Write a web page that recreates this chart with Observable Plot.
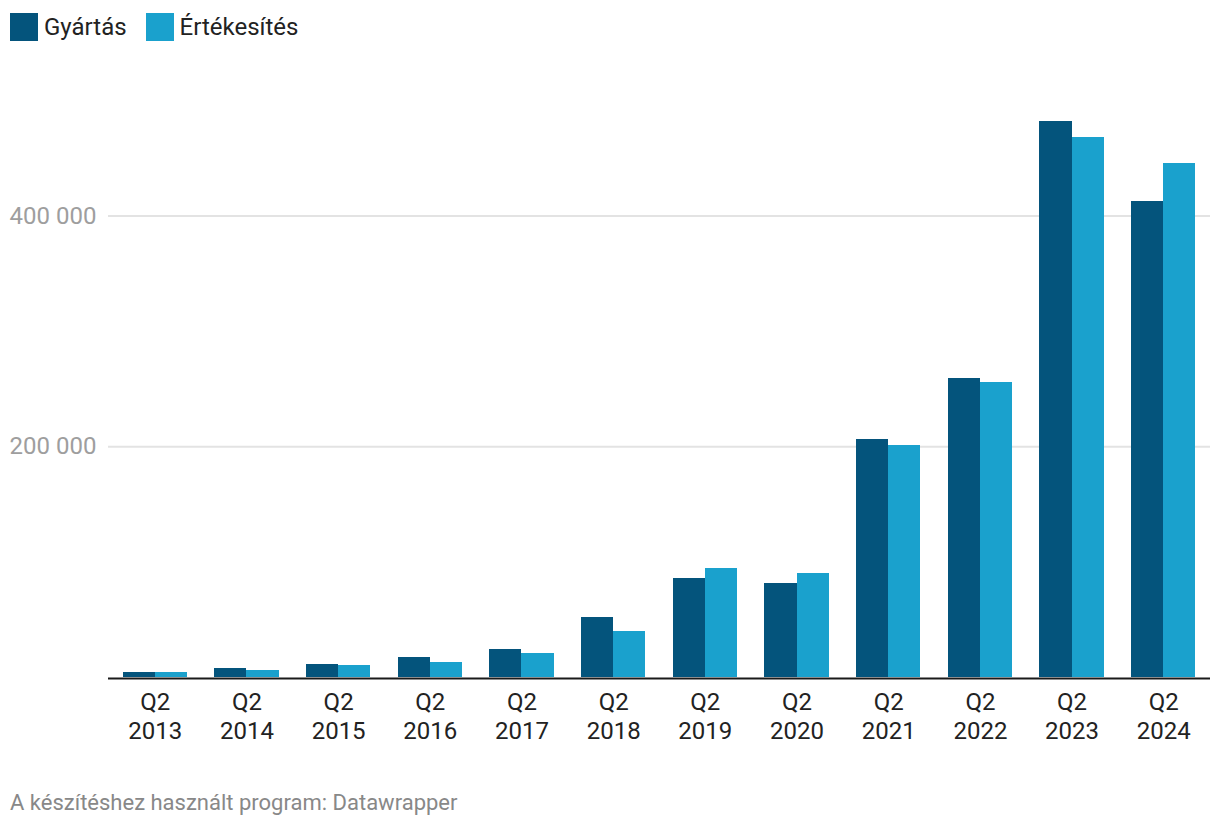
<!DOCTYPE html>
<html>
<head>
<meta charset="utf-8">
<script src="https://cdn.jsdelivr.net/npm/d3@7"></script>
<script src="https://cdn.jsdelivr.net/npm/@observablehq/plot@0.6"></script>
<style>
  html, body { margin: 0; padding: 0; background: #fff; }
  body { width: 1220px; height: 828px; font-family: Roboto, "Noto Sans", sans-serif; position: relative; overflow: hidden; }
  #legend { height: 54px; display: flex; align-items: center; padding-left: 10px; box-sizing: border-box; padding-top: 0px; }
  .item { display: flex; align-items: center; margin-right: 19px; font-size: 24px; color: #222; }
  .sw { width: 28px; height: 28px; margin-right: 6px; }
  #chart { position: absolute; top: 50px; left: 0; }
  #footer { position: absolute; left: 10px; top: 790px; font-size: 22px; color: #888; }
</style>
</head>
<body>
<div id="legend"></div>
<div id="chart"></div>
<div id="footer">A készítéshez használt program: Datawrapper</div>
<script>
const years = [2013, 2014, 2015, 2016, 2017, 2018, 2019, 2020, 2021, 2022, 2023, 2024];
const seriesNames = ["Gyártás", "Értékesítés"];
const gyartas = [4300, 7800, 11300, 17400, 24300, 52100, 85900, 81600, 206600, 258700, 481700, 412300];
const ertekesites = [4300, 6100, 10400, 13000, 20800, 39900, 94600, 90300, 201400, 255200, 467900, 445300];
const yTicks = [200000, 400000];
const colors = ["#04547c", "#1aa1cd"];

const gData = years.map((y, i) => ({year: y, series: seriesNames[0], value: gyartas[i]}));
const eData = years.map((y, i) => ({year: y, series: seriesNames[1], value: ertekesites[i]}));

const legend = document.getElementById("legend");
seriesNames.forEach((s, i) => {
  const it = document.createElement("div");
  it.className = "item";
  it.innerHTML = `<div class="sw" style="background:${colors[i]}"></div><span>${s}</span>`;
  legend.appendChild(it);
});

const fmt = d => d3.format(",")(d).replace(/,/g, " ");

const W = 1220, ML = 108, MR = 10, PI = 0.3, PO = 0.16;
const step = (W - ML - MR) / (years.length - PI + 2 * PO);
const half = step * (1 - PI) / 2;

const plot = Plot.plot({
  width: W,
  height: 710,
  marginLeft: ML,
  marginRight: MR,
  marginTop: 50,
  marginBottom: 83,
  style: {fontFamily: "Roboto, 'Noto Sans', sans-serif", background: "#fff"},
  x: {type: "band", domain: years, paddingInner: PI, paddingOuter: PO, round: false, label: null},
  y: {domain: [0, 500000], axis: null},
  color: {domain: seriesNames, range: colors},
  marks: [
    Plot.ruleY(yTicks, {stroke: "#e3e3e3", strokeWidth: 2}),
    Plot.barY(gData, {x: "year", y: "value", fill: "series", insetRight: half, shapeRendering: "crispEdges"}),
    Plot.barY(eData, {x: "year", y: "value", fill: "series", insetLeft: half, shapeRendering: "crispEdges"}),
    Plot.ruleY([0], {stroke: "#1a1a1a", strokeWidth: 2, dy: 1}),
    Plot.axisY(yTicks, {tickSize: 0, tickPadding: 12, tickFormat: fmt, fontSize: 24, color: "#9e9e9e", anchor: "left", label: null}),
    Plot.axisX({tickSize: 0, tickPadding: 13, tickFormat: d => `Q2\n${d}`, fontSize: 24, lineHeight: 1.17, color: "#222", label: null})
  ]
});
document.getElementById("chart").appendChild(plot);
</script>
</body>
</html>
